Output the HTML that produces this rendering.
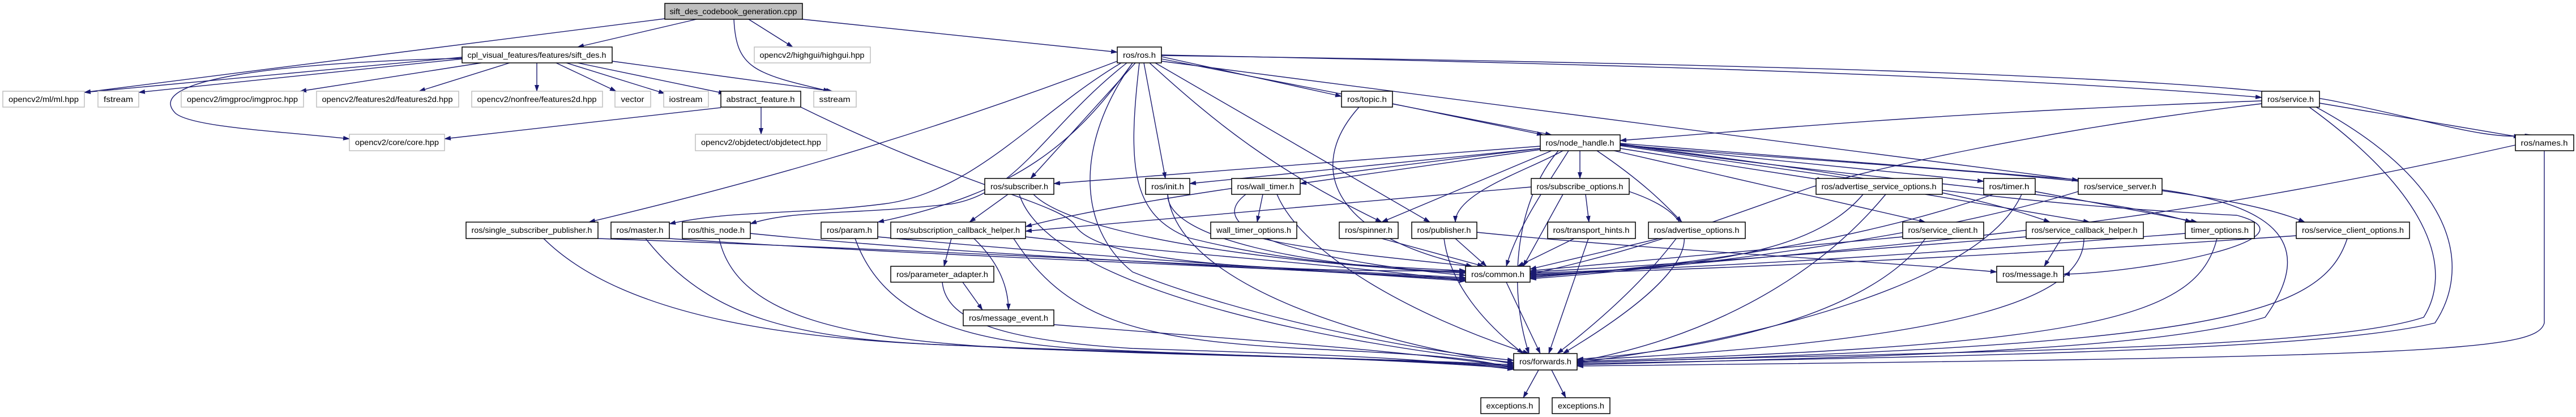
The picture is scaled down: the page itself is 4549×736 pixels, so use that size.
<!DOCTYPE html>
<html><head><meta charset="utf-8"><style>
html,body{margin:0;padding:0;background:#fff;width:4549px;height:736px;overflow:hidden}
svg text{font-family:"Liberation Sans",sans-serif;font-size:14px;fill:#000}
.e{stroke:#191970;stroke-width:1.4;fill:none;marker-end:url(#a)}
.n{fill:#fff;stroke:#000;stroke-width:1.5}
.g{fill:#fff;stroke:#bfbfbf;stroke-width:1.5}
</style></head><body>
<svg width="4549" height="736" viewBox="0 0 4549 736" xmlns="http://www.w3.org/2000/svg">
<defs><marker id="a" markerWidth="12" markerHeight="8" refX="11" refY="4" orient="auto" markerUnits="userSpaceOnUse"><path d="M0,0 L12,4 L0,8 z" fill="#191970"/></marker></defs>
<g>
<!-- root -->
<path class="e" d="M1174,33 L149,163"/>
<path class="e" d="M1230,34 L1020,83"/>
<path class="e" d="M1322,34 L1400,83"/>
<path class="e" d="M1296,34 C1300,120 1330,130 1465,161"/>
<path class="e" d="M1417,34 L1973,92"/>
<!-- sift -->
<path class="e" d="M816,101 L149,163"/>
<path class="e" d="M816,104 L245,163"/>
<path class="e" d="M816,103 C500,110 250,140 310,200 C340,225 500,232 617,245"/>
<path class="e" d="M850,111 L530,161"/>
<path class="e" d="M900,111 L740,161"/>
<path class="e" d="M948,111 L948,161"/>
<path class="e" d="M982,111 L1088,161"/>
<path class="e" d="M1000,111 L1174,165"/>
<path class="e" d="M1020,111 L1280,165"/>
<path class="e" d="M1081,108 L1470,161"/>
<!-- abstract -->
<path class="e" d="M1273,190 L785,245"/>
<path class="e" d="M1344,189 L1344,237"/>
<path class="e" d="M1414,189 C1700,330 1880,360 1900,400 C1950,470 2300,480 2588,478"/>
<!-- ros.h -->
<path class="e" d="M1973,108 C1600,250 1300,330 1040,392"/>
<path class="e" d="M1980,111 C1830,200 1720,340 1560,360 C1400,380 1300,370 1182,395"/>
<path class="e" d="M1990,111 C1850,220 1800,340 1680,360 C1500,380 1400,370 1325,395"/>
<path class="e" d="M2000,111 C1900,250 1800,340 1550,392"/>
<path class="e" d="M2005,111 L1820,315"/>
<path class="e" d="M2020,111 L2058,315"/>
<path class="e" d="M2012,111 C1990,300 2000,380 2100,420 C2300,470 2450,470 2588,478"/>
<path class="e" d="M2000,111 C1900,250 1900,400 2000,480 C2200,560 2500,620 2673,636"/>
<path class="e" d="M2051,100 L2369,170"/>
<path class="e" d="M2051,104 L2740,238"/>
<path class="e" d="M2051,97 C2700,110 3500,130 3994,172"/>
<path class="e" d="M2051,98 C2900,110 3900,130 4130,180 C4300,215 4400,250 4470,238"/>
<path class="e" d="M2040,111 L2525,392"/>
<path class="e" d="M2051,108 L3670,318"/>
<path class="e" d="M2030,111 C2150,220 2250,300 2440,392"/>
<!-- topic -->
<path class="e" d="M2459,183 L2725,238"/>
<path class="e" d="M2400,189 C2300,300 2360,420 2600,470"/>
<!-- service -->
<path class="e" d="M3994,178 C3400,200 3100,230 2861,248"/>
<path class="e" d="M4096,182 L4450,242"/>
<path class="e" d="M3994,183 C3600,230 3300,300 3200,330 C3000,400 2900,440 2702,484"/>
<path class="e" d="M4078,189 C4300,350 4330,480 4280,560 C4100,620 3400,620 2785,640"/>
<path class="e" d="M4090,189 C4350,330 4360,480 4300,570 C4100,620 3400,630 2785,642"/>
<!-- names -->
<path class="e" d="M4442,256 C3800,400 3400,430 2702,490"/>
<path class="e" d="M4493,266 L4493,570 C4480,620 4300,630 2785,646"/>
<!-- node_handle -->
<path class="e" d="M2720,258 L1861,324"/>
<path class="e" d="M2720,262 L2101,324"/>
<path class="e" d="M2720,264 L2296,324"/>
<path class="e" d="M2790,266 L2790,315"/>
<path class="e" d="M2861,262 L3220,318"/>
<path class="e" d="M2861,255 L3503,320"/>
<path class="e" d="M2861,253 L3680,318"/>
<path class="e" d="M2740,266 L2440,392"/>
<path class="e" d="M2760,266 C2700,300 2570,340 2570,392"/>
<path class="e" d="M2820,266 C2900,320 2940,360 2970,392"/>
<path class="e" d="M2850,266 L3400,392"/>
<path class="e" d="M2720,262 C2400,300 2000,350 1811,400"/>
<path class="e" d="M2861,255 C3300,320 3700,340 3870,392"/>
<path class="e" d="M2861,256 C3400,300 3900,320 4070,392"/>
<path class="e" d="M2861,254 C3200,300 3450,330 3620,392"/>
<path class="e" d="M2770,266 C2730,330 2680,400 2660,470"/>
<path class="e" d="M2752,266 C2680,350 2660,500 2700,624"/>
<path class="e" d="M2861,257 C3300,320 3550,360 3950,380 C4100,420 3800,480 3644,484"/>
<!-- row3 -->
<path class="e" d="M1780,343 L1712,392"/>
<path class="e" d="M1825,343 C1900,420 2300,470 2588,480"/>
<path class="e" d="M1800,343 C1850,500 2300,600 2673,640"/>
<path class="e" d="M2062,343 C2060,420 2300,470 2588,482"/>
<path class="e" d="M2062,343 C2080,500 2400,600 2673,642"/>
<path class="e" d="M2230,343 L2220,392"/>
<path class="e" d="M2200,343 C2100,420 2400,470 2588,486"/>
<path class="e" d="M2255,343 C2300,450 2500,560 2700,624"/>
<path class="e" d="M2704,330 L1811,408"/>
<path class="e" d="M2800,343 L2806,392"/>
<path class="e" d="M2760,343 L2690,470"/>
<path class="e" d="M2877,338 C3000,380 3050,450 2760,624"/>
<path class="e" d="M3400,343 L3690,392"/>
<path class="e" d="M3290,343 C3200,450 3000,470 2702,486"/>
<path class="e" d="M3330,343 C3200,500 3000,600 2785,638"/>
<path class="e" d="M3594,338 L3880,392"/>
<path class="e" d="M3520,343 C3300,420 3000,470 2702,488"/>
<path class="e" d="M3570,343 C3500,500 3100,600 2785,640"/>
<path class="e" d="M3670,338 C3400,420 3000,470 2702,492"/>
<path class="e" d="M3818,335 C4000,360 4100,420 4000,560 C3800,620 3300,630 2785,644"/>
<!-- row4 -->
<path class="e" d="M1056,421 C1600,440 2200,470 2588,490"/>
<path class="e" d="M960,421 C1100,560 1400,600 1700,610 C2100,630 2400,630 2673,644"/>
<path class="e" d="M1182,421 C1600,450 2200,470 2588,492"/>
<path class="e" d="M1140,421 C1250,560 1400,600 1700,610 C2200,630 2400,630 2673,646"/>
<path class="e" d="M1325,412 C1700,450 2200,470 2588,494"/>
<path class="e" d="M1270,421 C1300,560 1500,600 1800,615 C2200,630 2400,630 2673,648"/>
<path class="e" d="M1550,418 C1900,450 2200,470 2588,496"/>
<path class="e" d="M1510,421 C1560,560 1700,600 1900,615 C2200,630 2400,630 2673,650"/>
<path class="e" d="M1680,421 L1667,470"/>
<path class="e" d="M1720,421 C1760,460 1780,500 1781,547"/>
<path class="e" d="M1811,418 C2100,450 2400,470 2588,496"/>
<path class="e" d="M1790,421 C1880,560 2000,600 2300,615 C2500,625 2600,630 2673,650"/>
<path class="e" d="M1664,498 C1670,560 1750,600 2000,615 C2300,625 2500,630 2673,652"/>
<path class="e" d="M1700,498 L1735,547"/>
<path class="e" d="M1861,573 C2200,600 2500,620 2673,648"/>
<path class="e" d="M2230,421 C2300,440 2500,460 2600,470"/>
<path class="e" d="M2440,421 L2620,470"/>
<path class="e" d="M2570,421 L2625,470"/>
<path class="e" d="M2550,421 C2560,500 2620,570 2690,624"/>
<path class="e" d="M2608,410 C2900,440 3300,460 3526,480"/>
<path class="e" d="M2780,421 L2680,470"/>
<path class="e" d="M2805,421 L2735,624"/>
<path class="e" d="M2930,421 L2702,475"/>
<path class="e" d="M2960,421 C2900,500 2820,570 2750,624"/>
<path class="e" d="M3360,418 C3100,440 2900,460 2702,478"/>
<path class="e" d="M3400,421 C3300,560 3000,620 2785,634"/>
<path class="e" d="M3640,421 L3610,470"/>
<path class="e" d="M3578,418 C3300,440 3000,465 2702,480"/>
<path class="e" d="M3680,421 C3680,520 3500,600 2785,636"/>
<path class="e" d="M3859,412 C3500,440 3100,470 2702,482"/>
<path class="e" d="M3915,421 C3880,560 3700,610 2785,638"/>
<path class="e" d="M4055,416 C3700,440 3200,470 2702,484"/>
<path class="e" d="M4145,421 C4100,560 3900,610 2785,640"/>
<path class="e" d="M2660,498 L2720,624"/>
<path class="e" d="M2717,653 L2690,702"/>
<path class="e" d="M2740,653 L2765,702"/>
</g>
<g>
<rect x="1174" y="6" width="243" height="28" fill="#bfbfbf" stroke="#000" stroke-width="1.5"/>
<text x="1295" y="25" text-anchor="middle" textLength="225" lengthAdjust="spacingAndGlyphs">sift_des_codebook_generation.cpp</text>

<rect class="n" x="816" y="83" width="265" height="28"/><text x="948" y="102" text-anchor="middle" textLength="245" lengthAdjust="spacingAndGlyphs">cpl_visual_features/features/sift_des.h</text>
<rect class="g" x="1332" y="83" width="205" height="28"/><text x="1434" y="102" text-anchor="middle" textLength="185" lengthAdjust="spacingAndGlyphs">opencv2/highgui/highgui.hpp</text>
<rect class="n" x="1973" y="83" width="78" height="28"/><text x="2012" y="102" text-anchor="middle" textLength="58" lengthAdjust="spacingAndGlyphs">ros/ros.h</text>

<rect class="g" x="5" y="161" width="144" height="28"/><text x="77" y="180" text-anchor="middle" textLength="124" lengthAdjust="spacingAndGlyphs">opencv2/ml/ml.hpp</text>
<rect class="g" x="173" y="161" width="72" height="28"/><text x="209" y="180" text-anchor="middle" textLength="52" lengthAdjust="spacingAndGlyphs">fstream</text>
<rect class="g" x="320" y="161" width="216" height="28"/><text x="428" y="180" text-anchor="middle" textLength="196" lengthAdjust="spacingAndGlyphs">opencv2/imgproc/imgproc.hpp</text>
<rect class="g" x="559" y="161" width="251" height="28"/><text x="684" y="180" text-anchor="middle" textLength="231" lengthAdjust="spacingAndGlyphs">opencv2/features2d/features2d.hpp</text>
<rect class="g" x="833" y="161" width="231" height="28"/><text x="948" y="180" text-anchor="middle" textLength="211" lengthAdjust="spacingAndGlyphs">opencv2/nonfree/features2d.hpp</text>
<rect class="g" x="1086" y="161" width="63" height="28"/><text x="1117" y="180" text-anchor="middle" textLength="41" lengthAdjust="spacingAndGlyphs">vector</text>
<rect class="g" x="1172" y="161" width="79" height="28"/><text x="1211" y="180" text-anchor="middle" textLength="59" lengthAdjust="spacingAndGlyphs">iostream</text>
<rect class="n" x="1273" y="161" width="141" height="28"/><text x="1343" y="180" text-anchor="middle" textLength="121" lengthAdjust="spacingAndGlyphs">abstract_feature.h</text>
<rect class="g" x="1437" y="161" width="75" height="28"/><text x="1474" y="180" text-anchor="middle" textLength="55" lengthAdjust="spacingAndGlyphs">sstream</text>
<rect class="n" x="2369" y="161" width="90" height="28"/><text x="2414" y="180" text-anchor="middle" textLength="70" lengthAdjust="spacingAndGlyphs">ros/topic.h</text>
<rect class="n" x="3994" y="161" width="102" height="28"/><text x="4045" y="180" text-anchor="middle" textLength="82" lengthAdjust="spacingAndGlyphs">ros/service.h</text>

<rect class="g" x="617" y="237" width="168" height="29"/><text x="701" y="256" text-anchor="middle" textLength="148" lengthAdjust="spacingAndGlyphs">opencv2/core/core.hpp</text>
<rect class="g" x="1228" y="237" width="232" height="29"/><text x="1344" y="256" text-anchor="middle" textLength="212" lengthAdjust="spacingAndGlyphs">opencv2/objdetect/objdetect.hpp</text>
<rect class="n" x="2720" y="238" width="141" height="28"/><text x="2790" y="257" text-anchor="middle" textLength="121" lengthAdjust="spacingAndGlyphs">ros/node_handle.h</text>
<rect class="n" x="4442" y="238" width="103" height="28"/><text x="4493" y="257" text-anchor="middle" textLength="83" lengthAdjust="spacingAndGlyphs">ros/names.h</text>

<rect class="n" x="1739" y="315" width="122" height="28"/><text x="1800" y="334" text-anchor="middle" textLength="102" lengthAdjust="spacingAndGlyphs">ros/subscriber.h</text>
<rect class="n" x="2023" y="315" width="78" height="28"/><text x="2062" y="334" text-anchor="middle" textLength="58" lengthAdjust="spacingAndGlyphs">ros/init.h</text>
<rect class="n" x="2175" y="315" width="121" height="28"/><text x="2235" y="334" text-anchor="middle" textLength="101" lengthAdjust="spacingAndGlyphs">ros/wall_timer.h</text>
<rect class="n" x="2704" y="315" width="173" height="28"/><text x="2790" y="334" text-anchor="middle" textLength="153" lengthAdjust="spacingAndGlyphs">ros/subscribe_options.h</text>
<rect class="n" x="3207" y="315" width="223" height="28"/><text x="3318" y="334" text-anchor="middle" textLength="203" lengthAdjust="spacingAndGlyphs">ros/advertise_service_options.h</text>
<rect class="n" x="3503" y="315" width="91" height="28"/><text x="3548" y="334" text-anchor="middle" textLength="71" lengthAdjust="spacingAndGlyphs">ros/timer.h</text>
<rect class="n" x="3670" y="315" width="148" height="28"/><text x="3744" y="334" text-anchor="middle" textLength="128" lengthAdjust="spacingAndGlyphs">ros/service_server.h</text>

<rect class="n" x="823" y="392" width="233" height="29"/><text x="939" y="411" text-anchor="middle" textLength="213" lengthAdjust="spacingAndGlyphs">ros/single_subscriber_publisher.h</text>
<rect class="n" x="1079" y="392" width="103" height="29"/><text x="1130" y="411" text-anchor="middle" textLength="83" lengthAdjust="spacingAndGlyphs">ros/master.h</text>
<rect class="n" x="1205" y="392" width="120" height="29"/><text x="1265" y="411" text-anchor="middle" textLength="100" lengthAdjust="spacingAndGlyphs">ros/this_node.h</text>
<rect class="n" x="1450" y="392" width="100" height="29"/><text x="1500" y="411" text-anchor="middle" textLength="80" lengthAdjust="spacingAndGlyphs">ros/param.h</text>
<rect class="n" x="1573" y="392" width="238" height="29"/><text x="1692" y="411" text-anchor="middle" textLength="218" lengthAdjust="spacingAndGlyphs">ros/subscription_callback_helper.h</text>
<rect class="n" x="2138" y="392" width="152" height="29"/><text x="2214" y="411" text-anchor="middle" textLength="132" lengthAdjust="spacingAndGlyphs">wall_timer_options.h</text>
<rect class="n" x="2365" y="392" width="104" height="29"/><text x="2417" y="411" text-anchor="middle" textLength="84" lengthAdjust="spacingAndGlyphs">ros/spinner.h</text>
<rect class="n" x="2493" y="392" width="115" height="29"/><text x="2550" y="411" text-anchor="middle" textLength="95" lengthAdjust="spacingAndGlyphs">ros/publisher.h</text>
<rect class="n" x="2733" y="392" width="155" height="29"/><text x="2810" y="411" text-anchor="middle" textLength="135" lengthAdjust="spacingAndGlyphs">ros/transport_hints.h</text>
<rect class="n" x="2911" y="392" width="171" height="29"/><text x="2996" y="411" text-anchor="middle" textLength="151" lengthAdjust="spacingAndGlyphs">ros/advertise_options.h</text>
<rect class="n" x="3360" y="392" width="143" height="29"/><text x="3431" y="411" text-anchor="middle" textLength="123" lengthAdjust="spacingAndGlyphs">ros/service_client.h</text>
<rect class="n" x="3578" y="392" width="207" height="29"/><text x="3681" y="411" text-anchor="middle" textLength="187" lengthAdjust="spacingAndGlyphs">ros/service_callback_helper.h</text>
<rect class="n" x="3859" y="392" width="122" height="29"/><text x="3920" y="411" text-anchor="middle" textLength="102" lengthAdjust="spacingAndGlyphs">timer_options.h</text>
<rect class="n" x="4055" y="392" width="200" height="29"/><text x="4155" y="411" text-anchor="middle" textLength="180" lengthAdjust="spacingAndGlyphs">ros/service_client_options.h</text>

<rect class="n" x="1573" y="470" width="182" height="28"/><text x="1664" y="489" text-anchor="middle" textLength="162" lengthAdjust="spacingAndGlyphs">ros/parameter_adapter.h</text>
<rect class="n" x="2588" y="470" width="114" height="28"/><text x="2645" y="489" text-anchor="middle" textLength="94" lengthAdjust="spacingAndGlyphs">ros/common.h</text>
<rect class="n" x="3526" y="470" width="118" height="28"/><text x="3585" y="489" text-anchor="middle" textLength="98" lengthAdjust="spacingAndGlyphs">ros/message.h</text>
<rect class="n" x="1701" y="547" width="160" height="28"/><text x="1781" y="566" text-anchor="middle" textLength="140" lengthAdjust="spacingAndGlyphs">ros/message_event.h</text>
<rect class="n" x="2673" y="624" width="112" height="29"/><text x="2729" y="643" text-anchor="middle" textLength="92" lengthAdjust="spacingAndGlyphs">ros/forwards.h</text>
<rect class="n" x="2615" y="702" width="103" height="28"/><text x="2666" y="721" text-anchor="middle" textLength="83" lengthAdjust="spacingAndGlyphs">exceptions.h</text>
<rect class="n" x="2741" y="702" width="102" height="28"/><text x="2792" y="721" text-anchor="middle" textLength="82" lengthAdjust="spacingAndGlyphs">exceptions.h</text>
</g>
</svg>
</body></html>
